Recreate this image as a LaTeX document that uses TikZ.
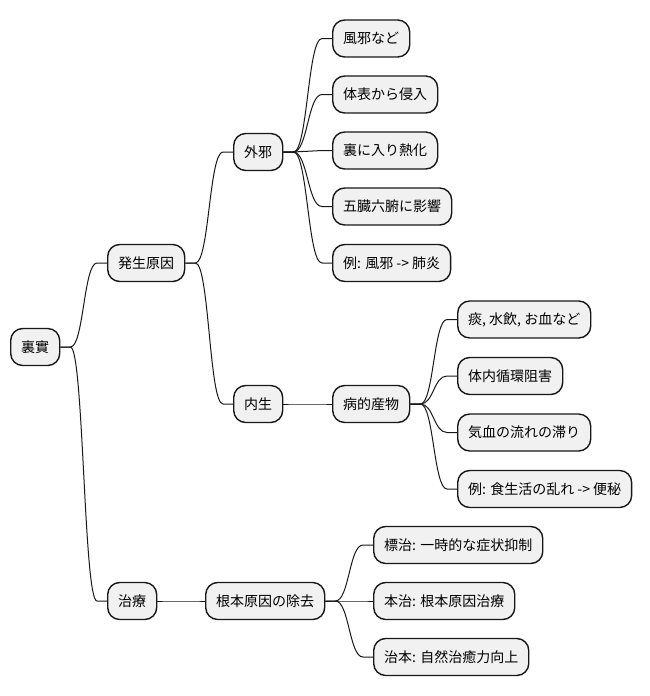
\documentclass[tikz,border=0pt]{standalone}
\usepackage{fontspec}
\newfontfamily\jp{Noto Sans CJK JP}
\usetikzlibrary{calc}
\definecolor{nodefill}{HTML}{F1F1F1}
\definecolor{linec}{HTML}{181818}
\begin{document}
\begin{tikzpicture}[x=1pt,y=-1pt,
  mm/.style={draw=linec,fill=nodefill,line width=1.4pt,rounded corners=12pt,
    minimum height=37pt,inner xsep=10.5pt,inner ysep=0pt,anchor=west,
    font=\jp\fontsize{14}{17}\selectfont,text=black},
  conn/.style={draw=linec,line width=1pt}]
\useasboundingbox (0,0) rectangle (649,696);
\node[mm] (root) at (10,347) {裏實};
\node[mm] (cause) at (107,263) {発生原因};
\node[mm] (treat) at (107,601) {治療};
\node[mm] (ext) at (233,152) {外邪};
\node[mm] (int) at (233,404) {内生};
\node[mm] (g1) at (332,38.5) {風邪など};
\node[mm] (g2) at (332,94.5) {体表から侵入};
\node[mm] (g3) at (332,150.5) {裏に入り熱化};
\node[mm] (g4) at (332,206.5) {五臓六腑に影響};
\node[mm] (g5) at (332,263) {例: 風邪 -> 肺炎};
\node[mm] (path) at (332,404) {病的産物};
\node[mm] (b1) at (457,319.5) {痰, 水飲, お血など};
\node[mm] (b2) at (457,376) {体内循環阻害};
\node[mm] (b3) at (457,432.5) {気血の流れの滞り};
\node[mm] (b4) at (457,489) {例: 食生活の乱れ -> 便秘};
\node[mm] (root2) at (205,601) {根本原因の除去};
\node[mm] (t1) at (373,545) {標治: 一時的な症状抑制};
\node[mm] (t2) at (373,601) {本治: 根本原因治療};
\node[mm] (t3) at (373,657) {治本: 自然治癒力向上};
\foreach \a/\b in {root/cause,root/treat,cause/ext,cause/int,ext/g1,ext/g2,ext/g3,ext/g4,ext/g5,int/path,path/b1,path/b2,path/b3,path/b4,treat/root2,root2/t1,root2/t2,root2/t3}{
  \path (\a.east) ++(10,0) coordinate (s);
  \path (\b.west) ++(-10,0) coordinate (e);
  \coordinate (m) at ($(s)!0.5!(e)$);
  \draw[conn] (\a.east) -- (s) .. controls (m |- s) and (m |- e) .. (e) -- (\b.west);
}
\end{tikzpicture}
\end{document}
